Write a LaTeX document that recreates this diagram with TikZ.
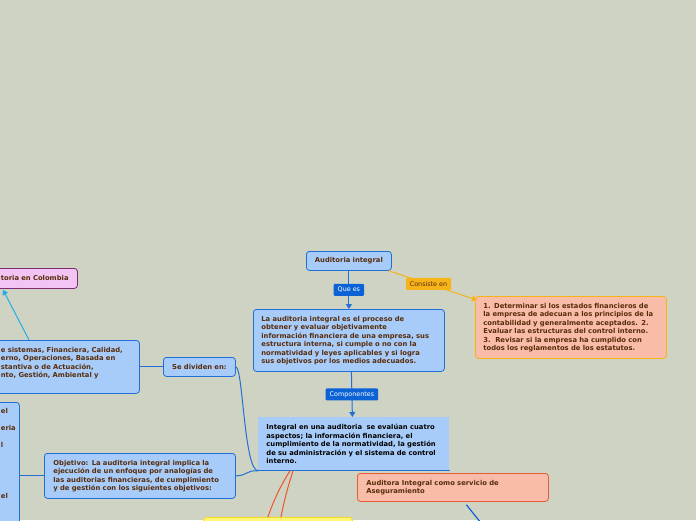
\documentclass[tikz,border=0pt]{standalone}
\usepackage{fontspec}
\setmainfont{DejaVu Sans}
\usetikzlibrary{arrows.meta}
\definecolor{bg}{RGB}{207,211,196}
\definecolor{bfill}{RGB}{168,204,250}
\definecolor{bline}{RGB}{32,112,215}
\definecolor{lblue}{RGB}{11,98,214}
\definecolor{txt}{RGB}{88,44,10}
\definecolor{orng}{RGB}{247,180,26}
\definecolor{salm}{RGB}{248,188,168}
\definecolor{redor}{RGB}{232,90,53}
\definecolor{pinkf}{RGB}{242,196,244}
\definecolor{pinkl}{RGB}{125,42,112}
\definecolor{sky}{RGB}{34,174,230}
\definecolor{orcur}{RGB}{240,85,42}
\definecolor{yelf}{RGB}{255,246,122}
\definecolor{yell}{RGB}{245,220,30}
\begin{document}
\begin{tikzpicture}[x=1pt,y=-1pt,
  font=\fontsize{6.8}{8.5}\selectfont\bfseries,
  box/.style={rounded corners=3pt, line width=0.8pt, inner ysep=2pt,
    align=left, anchor=north west, text=txt},
  bluebox/.style={box, draw=bline, fill=bfill},
  lab/.style={font=\fontsize{6.4}{7}\selectfont, inner xsep=4pt, inner ysep=0pt,
    minimum height=12pt, rounded corners=1pt},
  conn/.style={draw=bline, line width=1pt},
  tip/.style={-{Triangle[width=6pt,length=5pt]}}
]
\useasboundingbox (0,0) rectangle (696,520);
\fill[bg] (0,0) rectangle (696,520);
\begin{scope}
\clip (0,0) rectangle (696,520);

% nodes
\node[bluebox, minimum width=85pt, minimum height=19pt, inner xsep=0pt,
  text width=85pt, align=center] (ai) at (306,251) {Auditoria integral};

\node[bluebox, minimum width=191pt, minimum height=62pt, inner xsep=8pt,
  text width=175pt] (def) at (253,309)
  {La auditoria integral es el proceso de\\
   obtener y evaluar objetivamente\\
   información financiera de una empresa, sus\\
   estructura interna, si cumple o no con la\\
   normatividad y leyes aplicables y si logra\\
   sus objetivos por los medios adecuados.};

\node[box, draw=orng, fill=salm, minimum width=191pt, minimum height=62pt,
  inner xsep=8pt, text width=175pt] (cons) at (475,296)
  {1. Determinar si los estados financieros de\\
   la empresa de adecuan a los principios de la\\
   contabilidad y generalmente aceptados. 2.\\
   Evaluar las estructuras del control interno.\\
   3.\ \ Revisar si la empresa ha cumplido con\\
   todos los reglamentos de los estatutos.};

\node[box, rounded corners=0pt, fill=bfill, text=black, minimum width=191pt,
  minimum height=53pt, inner xsep=8pt, text width=175pt] (comp) at (258,417)
  {Integral en una auditoria\ \ se evalúan cuatro\\
   aspectos; la información financiera, el\\
   cumplimiento de la normatividad, la gestión\\
   de su administración y el sistema de control\\
   interno.};

\node[bluebox, minimum width=72pt, minimum height=19pt, inner xsep=0pt,
  text width=72pt, align=center] (sd) at (163,357) {Se dividen en:};

\node[bluebox, minimum width=144pt, minimum height=53pt, inner xsep=5.5pt,
  text width=133pt] (left) at (-5,340)
  {e sistemas, Financiera, Calidad,\\
   erno, Operaciones, Basada en\\
   stantiva o de Actuación,\\
   nto, Gestión, Ambiental y\\
   \mbox{}};

\node[box, draw=pinkl, fill=pinkf, minimum width=82pt, minimum height=20pt,
  inner xsep=5.5pt, text width=71pt] (pink) at (-5,268) {toria en Colombia};

\node[bluebox, minimum width=24pt, minimum height=137pt, inner xsep=5.5pt,
  text width=13pt] (col) at (-5,402)
  {el\\ \mbox{}\\ eria\\ \mbox{}\\ l\\ \mbox{}\\ \mbox{}\\ \mbox{}\\ \mbox{}\\ \mbox{}\\ el\\
   \mbox{}\\ \mbox{}\\ \mbox{}\\ \mbox{}};

\node[bluebox, minimum width=191pt, minimum height=45pt, inner xsep=9pt,
  text width=173pt] (obj) at (44,453)
  {Objetivo: La auditoria integral implica la\\
   ejecución de un enfoque por analogías de\\
   las auditorias financieras, de cumplimiento\\
   y de gestión con los siguientes objetivos:};

\node[box, draw=redor, fill=salm, minimum width=191pt, minimum height=28pt,
  inner xsep=9pt, text width=173pt] (aseg) at (357,473)
  {Auditora Integral como servicio de\\ Aseguramiento};

\node[box, draw=yell, fill=yelf, minimum width=149pt, minimum height=20pt,
  inner xsep=0pt, text width=149pt] (yel) at (203,517) {};

\coordinate (asegend) at (481,523);

% connectors
\draw[conn, tip] (ai.south) -- node[lab, fill=lblue, text=white] {Que es} (def.north);
\draw[conn, tip] ([xshift=2.5pt]def.south) -- node[lab, fill=lblue, text=white] {Componentes} ([xshift=-1.5pt]comp.north);
\draw[draw=orng, line width=1pt, tip] ([xshift=-3pt]ai.south east)
  -- node[lab, fill=orng, text=txt, pos=0.45] {Consiste en} ([shift={(2,4)}]cons.north west);
\draw[conn] (left.east) -- (sd.west);
\draw[conn] (sd.east) .. controls (243,367) and (244,470) .. (comp.south west);
\draw[conn] (obj.east) .. controls (248,475.5) and (246,470) .. (comp.south west);
\draw[conn] (col.east |- obj.west) -- (obj.west);
\draw[conn] (comp.south west) -- (comp.south east);
\draw[draw=sky, line width=1pt, tip] ([xshift=34pt]left.north west) -- ([shift={(8,1)}]pink.south west);
\draw[draw=orcur, line width=1pt] ([xshift=32pt]comp.south west) to[bend right=6] ([xshift=-10pt]yel.north);
\draw[draw=orcur, line width=1pt] ([xshift=35pt]comp.south west) to[bend right=3] ([xshift=3pt]yel.north);
\draw[draw=lblue, line width=1.2pt] ([shift={(13.5,3)}]aseg.south) -- (asegend);
\end{scope}
\end{tikzpicture}
\end{document}
